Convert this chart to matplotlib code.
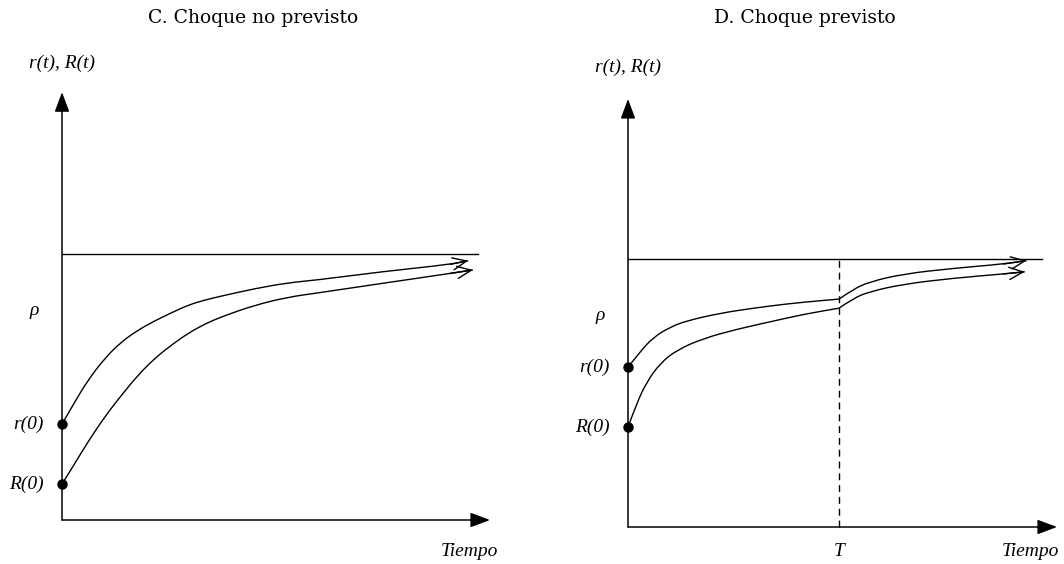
import matplotlib
matplotlib.use("Agg")
import matplotlib.pyplot as plt
from matplotlib.path import Path
from matplotlib.patches import PathPatch

# time axis runs 0..100 (arrow tip), rate axis has rho = 100
RHO = 100

# C. unexpected shock
c_time_r = [0, 3.0, 6.1, 10.0, 13.9, 17.8, 21.7, 25.6, 29.5, 33.4, 37.3, 45.1, 52.9, 59.5, 75.0, 90.7, 94.9]
c_r = [36.1, 44.5, 52.7, 60.9, 67.1, 71.5, 75.0, 78.0, 80.9, 82.8, 84.3, 87.1, 89.3, 90.3, 93.5, 96.2, 97.6]
c_time_R = [0, 3.0, 6.1, 10.0, 13.9, 17.8, 21.7, 25.6, 29.5, 33.4, 37.3, 45.1, 52.9, 59.5, 75.0, 90.7, 96.0]
c_R = [13.5, 21.3, 29.5, 38.9, 47.0, 54.6, 60.9, 65.9, 70.3, 73.8, 76.5, 80.9, 83.9, 85.4, 89.1, 92.8, 94.1]

# D. anticipated shock (kink at T)
T_SHOCK = 49.2
d_time_r = [0, 2.8, 5.9, 9.8, 13.7, 21.4, 29.2, 37.0, 44.8, 49.2, 52.5, 56.4, 64.2, 75.8, 87.5, 92.9]
d_r = [59.7, 65.5, 70.9, 74.7, 77.1, 79.9, 81.8, 83.4, 84.6, 85.2, 88.9, 91.7, 94.6, 96.7, 98.3, 99.6]
d_time_R = [0, 2.0, 4.4, 7.5, 11.4, 17.6, 25.3, 33.1, 40.9, 49.2, 52.5, 56.4, 64.2, 75.8, 87.5, 92.5]
d_R = [37.3, 46.2, 54.3, 61.2, 66.2, 70.5, 73.9, 76.7, 79.5, 81.8, 85.5, 88.0, 90.8, 93.0, 94.6, 95.4]

titles = ["C. Choque no previsto", "D. Choque previsto"]
LBL = dict(family="Liberation Serif", style="italic", fontsize=14)

fig = plt.figure(figsize=(10.64, 5.64), dpi=100)


def smooth_path(xs, ys):
    # quadratic bezier through midpoints, keeps the read points as controls
    verts = [(xs[0], ys[0])]
    codes = [Path.MOVETO]
    for i in range(1, len(xs) - 1):
        mid = ((xs[i] + xs[i + 1]) / 2, (ys[i] + ys[i + 1]) / 2)
        verts += [(xs[i], ys[i]), mid]
        codes += [Path.CURVE3, Path.CURVE3]
    verts.append((xs[-1], ys[-1]))
    codes.append(Path.LINETO)
    return Path(verts, codes)


def draw_curve(ax, tt, yy, kink=None):
    pieces = [(0, len(tt))]
    if kink is not None:
        k = tt.index(kink)
        pieces = [(0, k + 1), (k, len(tt))]
    for a, b in pieces:
        ax.add_patch(PathPatch(smooth_path(tt[a:b], yy[a:b]), fill=False,
                               lw=1.0, edgecolor="black"))
    ax.annotate("", xy=(tt[-1], yy[-1]), xytext=(tt[-2], yy[-2]),
                arrowprops=dict(arrowstyle="->,head_length=0.5,head_width=0.22",
                                mutation_scale=20, lw=1.0, color="black",
                                shrinkA=0, shrinkB=0))
    ax.plot(tt[0], yy[0], "o", color="black", ms=6.5, clip_on=False)


def draw_panel(ax, t_r, r, t_R, R, rho_end, ytop, shock=None):
    ax.axis("off")
    arrow = dict(arrowstyle="-|>,head_length=0.8,head_width=0.3",
                 mutation_scale=15, lw=1.1, color="black", shrinkA=0, shrinkB=0)
    ax.annotate("", xy=(0, ytop), xytext=(0, 0), arrowprops=arrow)
    ax.annotate("", xy=(100, 0), xytext=(0, 0), arrowprops=arrow)
    ax.plot([0, rho_end], [RHO, RHO], color="black", lw=1.0)
    if shock is not None:
        ax.plot([shock, shock], [0, RHO], color="black", lw=1.0,
                linestyle=(0, (5, 3.5)))
        ax.text(shock, -9.3, "T", ha="center", va="center", **LBL)

    draw_curve(ax, t_r, r, shock)
    draw_curve(ax, t_R, R, shock)

    ax.annotate("r(0)", xy=(0, r[0]), xytext=(-13, 0), textcoords="offset points",
                ha="right", va="center", **LBL)
    ax.annotate("R(0)", xy=(0, R[0]), xytext=(-13, 0), textcoords="offset points",
                ha="right", va="center", **LBL)
    ax.text(-6.5, 79, "ρ", ha="center", va="center", **LBL)
    ax.text(0, 172, "r(t), R(t)", ha="center", va="center", **LBL)


ax1 = fig.add_axes([0, 0, 0.5, 1])
ax1.set_xlim(-14.49, 109.81)
ax1.set_ylim(-16.56, 195.7)
draw_panel(ax1, c_time_r, c_r, c_time_R, c_R, 97.1, 161)
ax1.text(95.3, -12.0, "Tiempo", ha="center", va="center", **LBL)

ax2 = fig.add_axes([0.5, 0, 0.5, 1])
ax2.set_xlim(-22.38, 101.63)
ax2.set_ylim(-13.83, 197.0)
draw_panel(ax2, d_time_r, d_r, d_time_R, d_R, 96.6, 160, shock=T_SHOCK)
ax2.text(93.7, -9.3, "Tiempo", ha="center", va="center", **LBL)

fig.text(253 / 1064, 1 - 18 / 564, titles[0], ha="center", va="center",
         family="DejaVu Serif", fontsize=13.5)
fig.text(805 / 1064, 1 - 18 / 564, titles[1], ha="center", va="center",
         family="DejaVu Serif", fontsize=13.5)

fig.savefig("out.png", dpi=100)
